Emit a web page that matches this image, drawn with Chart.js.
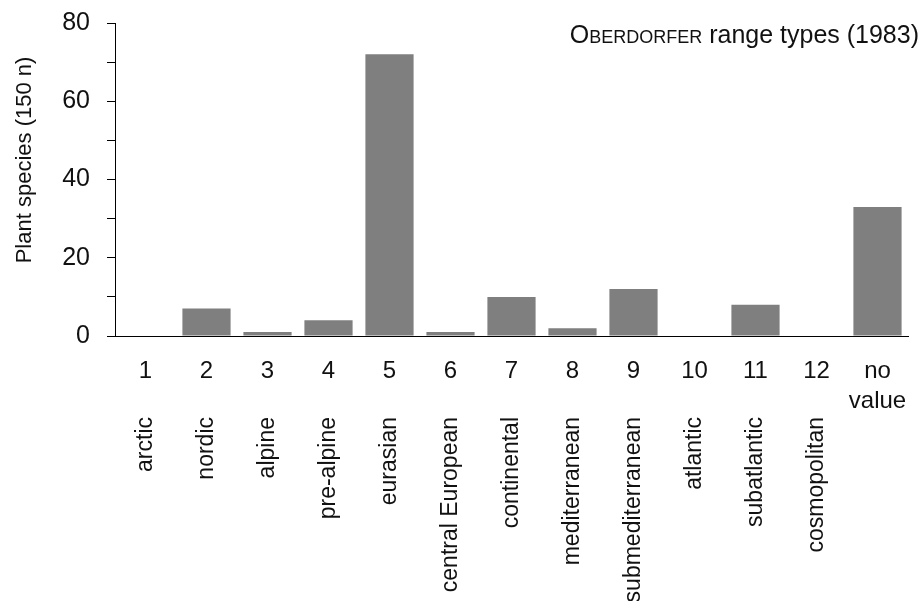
<!DOCTYPE html>
<html>
<head>
<meta charset="utf-8">
<script src="https://cdn.jsdelivr.net/npm/chart.js@4.4.1/dist/chart.umd.min.js"></script>
<style>
  html, body { margin: 0; padding: 0; background: #ffffff; }
  #wrap { position: relative; width: 923px; height: 601px; }
</style>
</head>
<body>
<div id="wrap"><canvas id="c" width="923" height="601"></canvas></div>
<script>
// ---- data ----
const typeNumbers = ['1', '2', '3', '4', '5', '6', '7', '8', '9', '10', '11', '12', ['no', 'value']];
const typeNames = ['arctic', 'nordic', 'alpine', 'pre-alpine', 'eurasian', 'central European', 'continental',
  'mediterranean', 'submediterranean', 'atlantic', 'subatlantic', 'cosmopolitan', ''];
const speciesCounts = [0, 7, 1, 4, 72, 1, 10, 2, 12, 0, 8, 0, 33];
const yTickLabels = [0, 20, 40, 60, 80];
const yAxisTitle = 'Plant species (150 n)';
const titleFirst = 'O';
const titleCaps = 'BERDORFER';
const titleRest = ' range types (1983)';

const NARROW = '"Liberation Sans Narrow", "Arial Narrow", "Liberation Sans", Arial, sans-serif';
const REGULAR = '"Liberation Sans", Arial, sans-serif';

const textPlugin = {
  id: 'textPlugin',
  afterDraw(chart) {
    const ctx = chart.ctx;
    ctx.save();
    ctx.fillStyle = '#111111';
    // y-axis title
    ctx.save();
    ctx.translate(31, 160);
    ctx.rotate(-Math.PI / 2);
    ctx.font = '22px ' + REGULAR;
    ctx.textAlign = 'center';
    ctx.textBaseline = 'alphabetic';
    ctx.fillText(yAxisTitle, 0, 0);
    ctx.restore();
    // top-right title with small caps
    const big = '25px ' + NARROW;
    const small = '18px ' + NARROW;
    ctx.textBaseline = 'alphabetic';
    ctx.textAlign = 'left';
    ctx.font = big; const w1 = ctx.measureText(titleFirst).width;
    ctx.font = small; const w2 = ctx.measureText(titleCaps).width;
    ctx.font = big; const w3 = ctx.measureText(titleRest).width;
    let x = 919 - (w1 + w2 + w3);
    const y = 43;
    ctx.font = big; ctx.fillText(titleFirst, x, y); x += w1;
    ctx.font = small; ctx.fillText(titleCaps, x, y); x += w2;
    ctx.font = big; ctx.fillText(titleRest, x, y);
    ctx.restore();
  }
};

new Chart(document.getElementById('c'), {
  type: 'bar',
  data: {
    labels: typeNumbers,
    datasets: [{
      data: speciesCounts,
      backgroundColor: '#7f7f7f',
      borderWidth: 0,
      categoryPercentage: 1.0,
      barPercentage: 0.79
    }]
  },
  options: {
    responsive: false,
    animation: false,
    devicePixelRatio: 1,
    layout: { padding: { top: 23, right: 15, bottom: 0, left: 0 } },
    plugins: { legend: { display: false }, tooltip: { enabled: false }, title: { display: false } },
    scales: {
      x: {
        type: 'category',
        position: 'bottom',
        offset: true,
        grid: { display: false },
        border: { display: true, color: '#000000', width: 1 },
        ticks: {
          font: { family: NARROW, size: 24, lineHeight: 1.25 },
          color: '#111111',
          padding: 12,
          maxRotation: 0,
          minRotation: 0,
          autoSkip: false
        },
        afterFit(scale) { scale.height = 73; }
      },
      names: {
        type: 'category',
        position: 'bottom',
        labels: typeNames,
        offset: true,
        grid: { display: false },
        border: { display: false },
        ticks: {
          font: { family: REGULAR, size: 23 },
          color: '#111111',
          padding: 0,
          maxRotation: 90,
          minRotation: 90,
          autoSkip: false
        },
        afterFit(scale) { scale.height = 192; }
      },
      y: {
        min: 0,
        max: 80,
        grid: { display: true, drawOnChartArea: false, drawTicks: true, tickLength: 8, color: '#000000', tickWidth: 1 },
        border: { display: true, color: '#000000', width: 1 },
        ticks: {
          stepSize: 10,
          font: { family: NARROW, size: 25 },
          color: '#111111',
          padding: 17,
          callback: (v) => (yTickLabels.includes(v) ? String(v) : '')
        },
        afterFit(scale) { scale.width = 115; scale.paddingTop = 0; }
      }
    }
  },
  plugins: [textPlugin]
});
</script>
</body>
</html>
